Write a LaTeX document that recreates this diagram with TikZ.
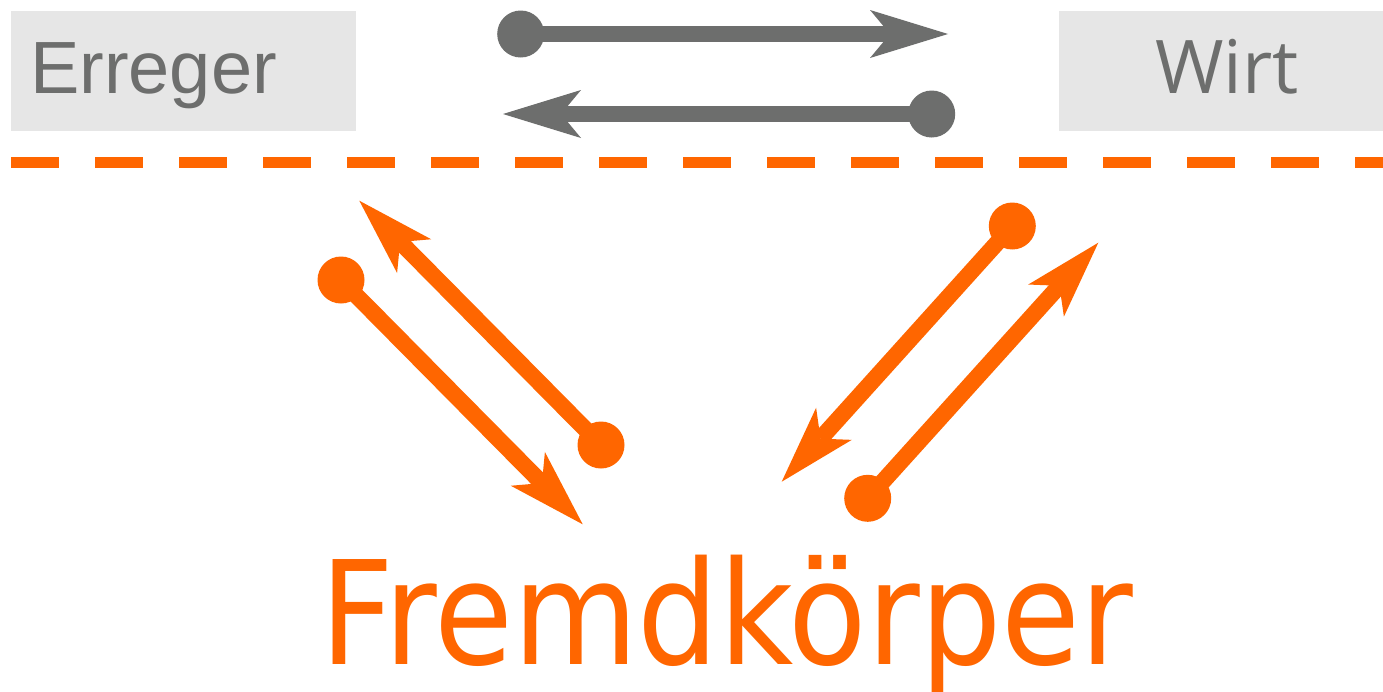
\documentclass[tikz,border=0pt]{standalone}
\usepackage{fontspec}
\setmainfont{Liberation Sans}
\newfontfamily\wirtfont{Open Sans}
\newfontfamily\fremdfont{DejaVu Sans}
\usetikzlibrary{arrows.meta}
\definecolor{myorange}{HTML}{FF6600}
\definecolor{mygray}{HTML}{6D6E6D}
\definecolor{boxgray}{HTML}{E6E6E6}
\begin{document}
\begin{tikzpicture}[x=1pt,y=-1pt,
  dot/.style={circle,fill=#1,draw=none,inner sep=0pt,minimum size=47pt},
  link/.style={draw=#1,line width=16.5pt,-{Stealth[length=78pt,width=48pt,inset=20pt,line width'=0pt]}},
  labelbox/.style={fill=boxgray,draw=none,inner sep=0pt,anchor=north west},
  lbl/.style={text=mygray,inner sep=0pt,font=\fontsize{74}{80}\selectfont}]
\useasboundingbox[fill=white] (0,0) rectangle (1383,691);
% boxes
\node[labelbox,minimum width=345pt,minimum height=120pt] (errbox) at (11,11) {};
\node[labelbox,minimum width=324pt,minimum height=120pt] (wirtbox) at (1059,11) {};
\node[lbl,anchor=base west] (erreger) at (30,93) {Erreger};
\node[lbl,font=\wirtfont\fontsize{74}{80}\selectfont,anchor=base] (wirt) at (1227,93) {Wirt};
% dashed separator
\coordinate (sepL) at (11,162.5);
\coordinate (sepR) at (1383,162.5);
\draw[myorange,line width=11pt,dash pattern=on 48pt off 36pt] (sepL) -- (sepR);
% gray arrows
\node[dot=mygray] (g1) at (520.7,34) {};
\coordinate (g1t) at (948,34);
\draw[link=mygray] (g1.center) -- (g1t);
\node[dot=mygray] (g2) at (931.7,114) {};
\coordinate (g2t) at (503,114);
\draw[link=mygray] (g2.center) -- (g2t);
% orange arrows
\node[dot=myorange] (oA) at (341,280) {};
\coordinate (oAt) at (582.7,524.3);
\draw[link=myorange] (oA.center) -- (oAt);
\node[dot=myorange] (oB) at (601,445) {};
\coordinate (oBt) at (359.3,200.7);
\draw[link=myorange] (oB.center) -- (oBt);
\node[dot=myorange] (oC) at (1012.3,226) {};
\coordinate (oCt) at (781.7,481.7);
\draw[link=myorange] (oC.center) -- (oCt);
\node[dot=myorange] (oD) at (867.7,498.3) {};
\coordinate (oDt) at (1098.3,242.7);
\draw[link=myorange] (oD.center) -- (oDt);
% main label
\node[text=myorange,inner sep=0pt,anchor=base,font=\fremdfont\fontsize{144}{150}\selectfont] (fremd) at (726.5,664) {\scalebox{0.89}[1]{Fremdkörper}};
\end{tikzpicture}
\end{document}
